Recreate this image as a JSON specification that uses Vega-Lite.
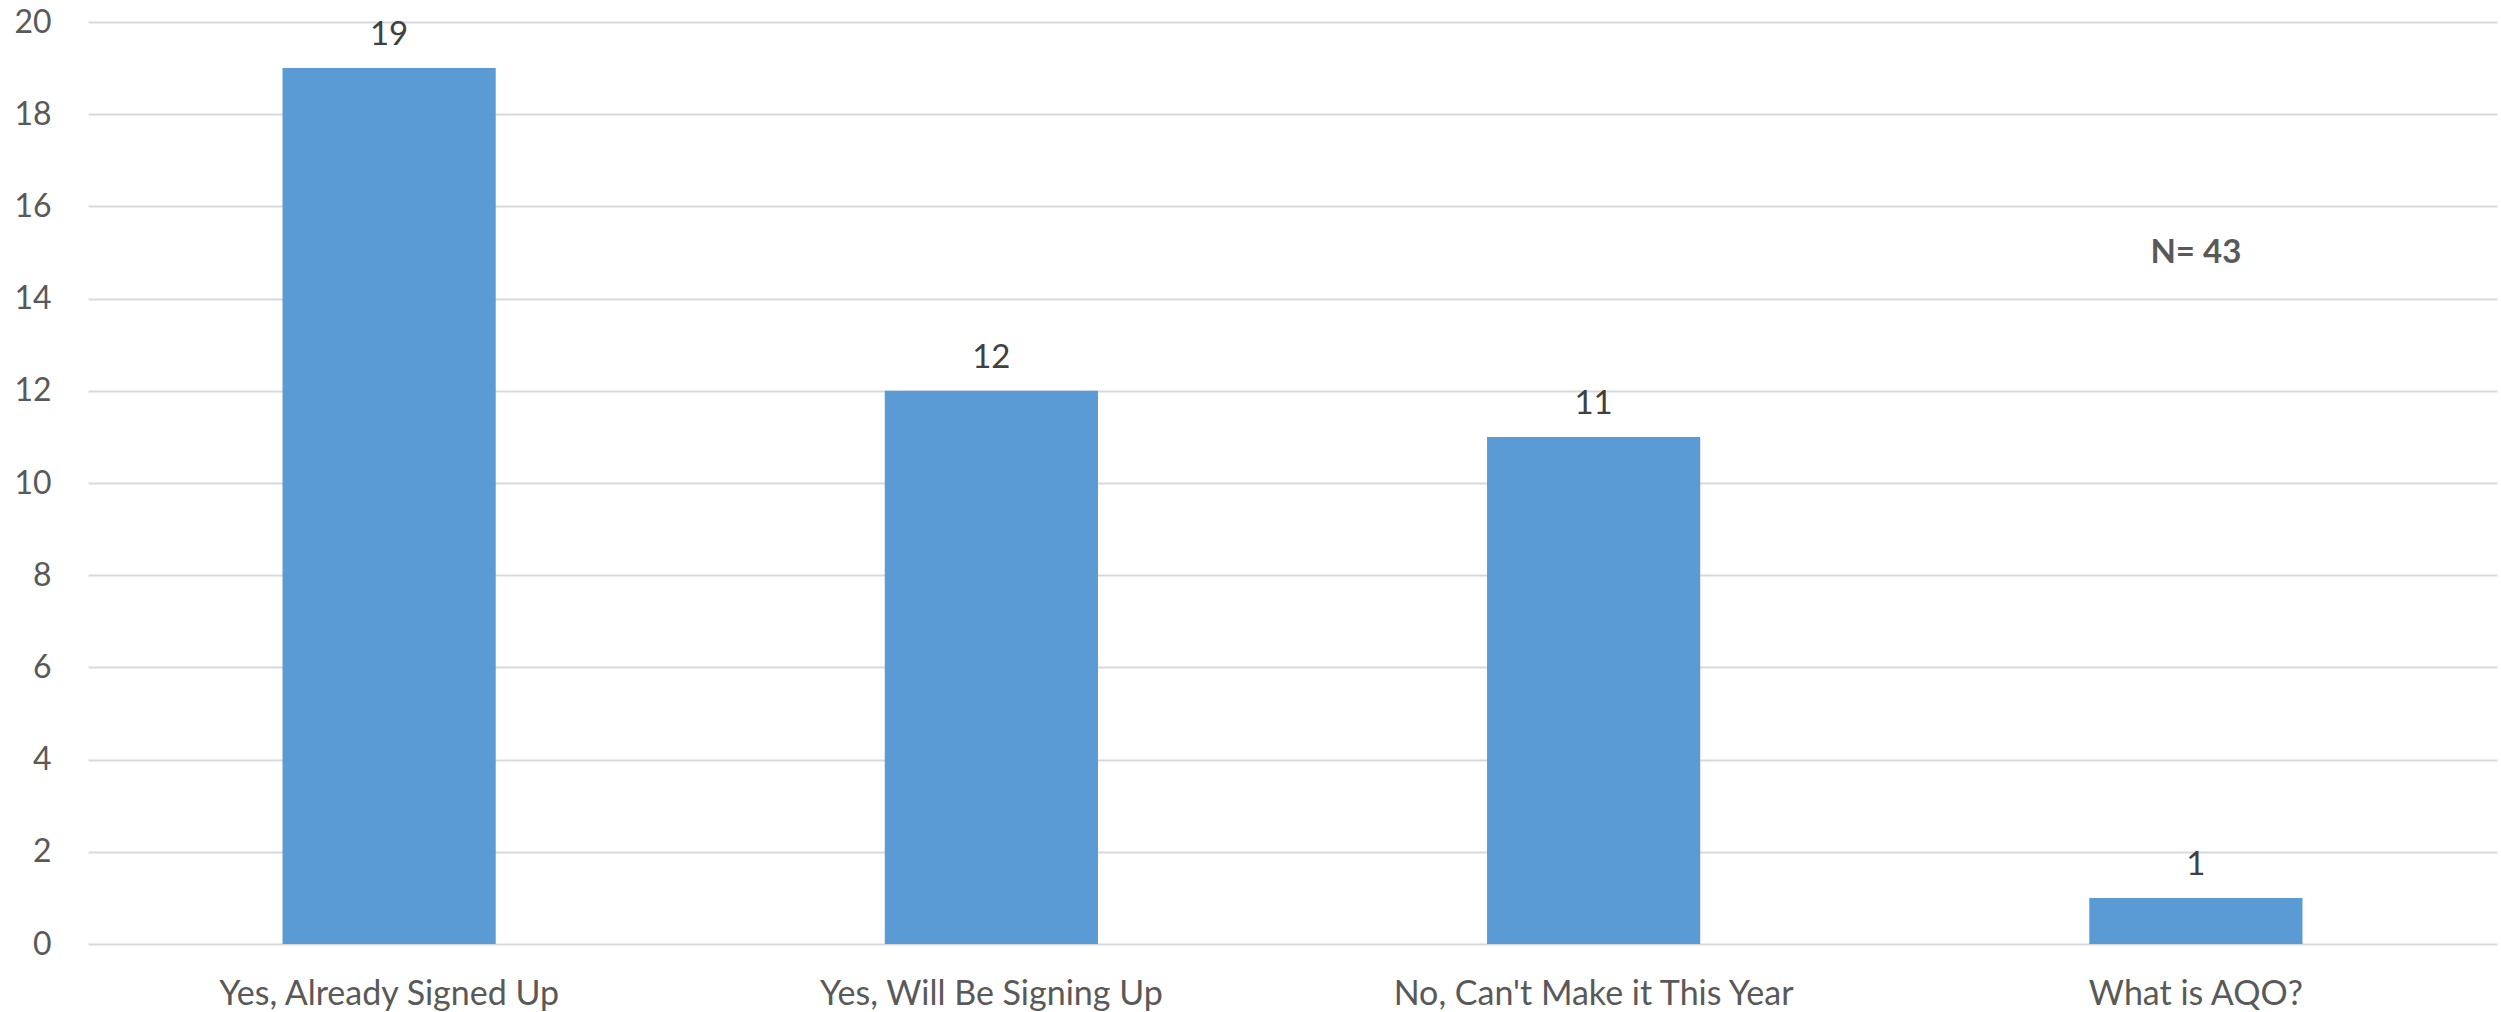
{
  "$schema": "https://vega.github.io/schema/vega-lite/v6.json",
  "width": 2409,
  "height": 922,
  "autosize": {"type": "none"},
  "padding": {"left": 88, "top": 22, "right": 4, "bottom": 68},
  "background": "white",
  "config": {
    "view": {"stroke": null},
    "font": "Lato",
    "axis": {"labelFont": "Lato", "labelColor": "#595959", "labelFontSize": 32, "ticks": false, "domain": false, "labelLimit": 0}
  },
  "datasets": {
    "bars": [
      {"category": "Yes, Already Signed Up", "count": 19},
      {"category": "Yes, Will Be Signing Up", "count": 12},
      {"category": "No, Can't Make it This Year", "count": 11},
      {"category": "What is AQO?", "count": 1}
    ],
    "note": [
      {"category": "What is AQO?", "y": 15, "label": "N= 43"}
    ]
  },
  "layer": [
    {
      "data": {"name": "bars"},
      "mark": {"type": "bar", "color": "#5B9BD5"},
      "encoding": {
        "x": {
          "field": "category", "type": "nominal", "sort": null,
          "scale": {"paddingInner": 0.646, "paddingOuter": 0.323},
          "axis": {"title": null, "labelAngle": 0, "labelPadding": 33, "grid": false, "labelFontSize": 34}
        },
        "y": {
          "field": "count", "type": "quantitative",
          "scale": {"domain": [0, 20], "nice": false},
          "axis": {"title": null, "values": [0, 2, 4, 6, 8, 10, 12, 14, 16, 18, 20], "grid": true, "gridColor": "#d9d9d9", "gridWidth": 2, "labelPadding": 37}
        }
      }
    },
    {
      "data": {"name": "bars"},
      "mark": {"type": "text", "dy": -33, "fontSize": 33, "color": "#404040", "font": "Lato"},
      "encoding": {
        "x": {"field": "category", "type": "nominal", "sort": null},
        "y": {"field": "count", "type": "quantitative"},
        "text": {"field": "count", "type": "quantitative"}
      }
    },
    {
      "data": {"name": "note"},
      "mark": {"type": "text", "fontSize": 33, "fontWeight": "bold", "color": "#595959", "font": "Lato"},
      "encoding": {
        "x": {"field": "category", "type": "nominal", "sort": null},
        "y": {"field": "y", "type": "quantitative"},
        "text": {"field": "label"}
      }
    }
  ]
}
